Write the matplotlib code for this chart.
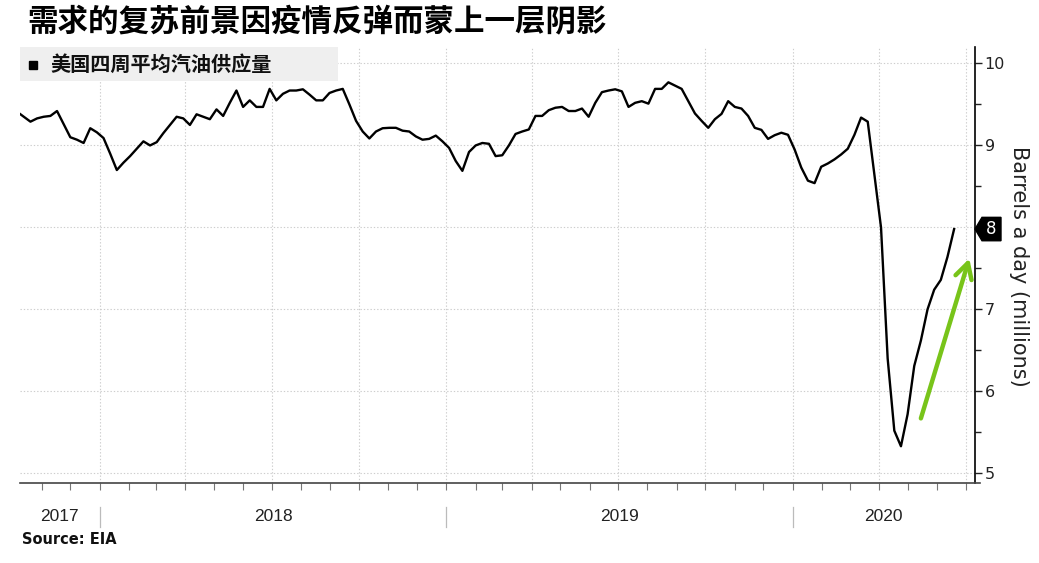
import matplotlib
matplotlib.use("Agg")
import matplotlib.pyplot as plt
import matplotlib.dates as mdates
from matplotlib.patches import Rectangle, Polygon
from matplotlib.ticker import FixedLocator, MultipleLocator, FuncFormatter
import pandas as pd

# ---------------- data ----------------
title = "需求的复苏前景因疫情反弹而蒙上一层阴影"
legend_label = "美国四周平均汽油供应量"
y_label = "Barrels a day (millions)"
source_text = "Source: EIA"
years = [2017, 2018, 2019, 2020]
y_ticks = [5, 6, 7, 8, 9, 10]

start_date = "2017-10-06"
gasoline = [
    9.41, 9.35, 9.29, 9.33, 9.35, 9.36, 9.42, 9.26, 9.10, 9.07,
    9.03, 9.21, 9.16, 9.09, 8.90, 8.70, 8.79, 8.87, 8.96, 9.05,
    9.00, 9.04, 9.15, 9.25, 9.35, 9.33, 9.25, 9.38, 9.35, 9.32,
    9.44, 9.36, 9.52, 9.67, 9.47, 9.55, 9.47, 9.47, 9.69, 9.55,
    9.63, 9.67, 9.67, 9.685, 9.62, 9.55, 9.55, 9.64, 9.67, 9.69,
    9.50, 9.30, 9.17, 9.085, 9.17, 9.21, 9.215, 9.215, 9.18, 9.17,
    9.11, 9.07, 9.08, 9.12, 9.05, 8.97, 8.81, 8.69, 8.92, 9.00,
    9.03, 9.02, 8.87, 8.88, 9.00, 9.14, 9.17, 9.195, 9.36, 9.36,
    9.43, 9.46, 9.47, 9.42, 9.42, 9.45, 9.35, 9.52, 9.65, 9.67,
    9.685, 9.66, 9.47, 9.52, 9.54, 9.51, 9.69, 9.69, 9.77, 9.73,
    9.69, 9.54, 9.39, 9.30, 9.215, 9.32, 9.385, 9.54, 9.47, 9.45,
    9.36, 9.215, 9.19, 9.08, 9.125, 9.155, 9.13, 8.95, 8.73, 8.57,
    8.54, 8.74, 8.78, 8.83, 8.89, 8.96, 9.13, 9.34, 9.29, 8.64,
    8.00, 6.40, 5.52, 5.33, 5.72, 6.31, 6.62, 7.00, 7.24, 7.36,
    7.64, 7.98,
]
dates = pd.date_range(start_date, periods=len(gasoline), freq="7D")

x_range = ("2017-10-09", "2020-07-11")
y_range = (4.878, 10.201)
arrow_tail = ("2020-05-15", 5.67)
arrow_head = ("2020-07-05", 7.62)

# ---------------- style ----------------
CJK = ["Noto Sans CJK SC", "DejaVu Sans"]
GREEN = "#78c41a"

fig = plt.figure(figsize=(10.39, 5.63), dpi=100)
W, H = 1039, 563
ax_l, ax_r, ax_t, ax_b = 20, 975, 47, 483.3
ax = fig.add_axes([ax_l / W, 1 - ax_b / H, (ax_r - ax_l) / W, (ax_b - ax_t) / H])
ax_w_px = ax_r - ax_l

ax.plot(dates, gasoline, color="black", lw=1.7, zorder=3, solid_joinstyle="round")

ax.set_xlim(pd.Timestamp(x_range[0]), pd.Timestamp(x_range[1]))
ax.set_ylim(*y_range)

# spines
for s in ["top", "left"]:
    ax.spines[s].set_visible(False)
ax.spines["right"].set_color("black")
ax.spines["right"].set_linewidth(1.2)
ax.spines["bottom"].set_color("#444444")
ax.spines["bottom"].set_linewidth(1.2)
ax.spines["bottom"].set_bounds(ax.get_xlim()[0],
                               ax.get_xlim()[1] + 5 / ax_w_px * (ax.get_xlim()[1] - ax.get_xlim()[0]))

# x axis: quarterly grid, monthly ticks, no labels
ax.xaxis.set_major_locator(mdates.MonthLocator(bymonth=[1, 4, 7, 10]))
ax.xaxis.set_minor_locator(mdates.MonthLocator())
ax.tick_params(axis="x", which="both", length=5, width=0.8, color="#777777",
               labelbottom=False, direction="out")

# y axis on right
ax.yaxis.tick_right()
ax.yaxis.set_major_locator(FixedLocator(y_ticks))
ax.yaxis.set_minor_locator(MultipleLocator(0.5))
last_val = gasoline[-1]
ax.yaxis.set_major_formatter(
    FuncFormatter(lambda v, p: "" if round(v) == round(last_val) else f"{v:g}"))
ax.tick_params(axis="y", which="major", length=5, width=1, color="#222222",
               labelsize=11.5, labelcolor="#222222", pad=2)
ax.tick_params(axis="y", which="minor", length=4, width=1, color="#222222")

ax.grid(axis="both", which="major", linestyle=(0, (1.2, 1.8)), color="#cdcdcd", lw=0.8)
ax.set_axisbelow(True)

# year labels and separators
xt = ax.get_xaxis_transform()
xl0, xl1 = ax.get_xlim()
for yr in years:
    a = max(xl0, mdates.date2num(pd.Timestamp(f"{yr}-01-01")))
    b = min(xl1, mdates.date2num(pd.Timestamp(f"{yr + 1}-01-01")))
    ax.text((a + b) / 2, -0.077, str(yr), transform=xt, ha="center", va="center",
            fontsize=12.5, family="Liberation Sans", color="#222222")
for yr in years[1:]:
    xv = mdates.date2num(pd.Timestamp(f"{yr}-01-01"))
    ax.plot([xv, xv], [-0.0536, -0.1003], transform=xt, color="#bbbbbb",
            lw=0.9, clip_on=False)

# legend box
ax.add_patch(Rectangle((0, 1 - 33.5 / (ax_b - ax_t)), (338 - ax_l) / ax_w_px, 33.5 / (ax_b - ax_t),
                       transform=ax.transAxes, facecolor="#efefef", edgecolor="none",
                       zorder=5, clip_on=False))
leg_y = (ax_b - 64.5) / (ax_b - ax_t)
ax.plot([(33 - ax_l) / ax_w_px], [leg_y], marker="s", ms=5.5, color="black",
        transform=ax.transAxes, zorder=6, clip_on=False)
ax.text((50 - ax_l) / ax_w_px, leg_y, legend_label, transform=ax.transAxes,
        fontsize=14.5, fontweight="bold", family=CJK, va="center", ha="left",
        color="#111111", zorder=6)

# last value tag
yt = ax.get_yaxis_transform()
ppu = (ax_b - ax_t) / (y_range[1] - y_range[0])  # px per data unit
hh = 11.7 / ppu
tag = Polygon([(1.0, last_val), (1 + 7 / ax_w_px, last_val + hh),
               (1 + 26 / ax_w_px, last_val + hh), (1 + 26 / ax_w_px, last_val - hh),
               (1 + 7 / ax_w_px, last_val - hh)], closed=True, transform=yt,
              facecolor="black", edgecolor="black", zorder=10, clip_on=False)
ax.add_patch(tag)
ax.text(1 + 16.5 / ax_w_px, last_val, f"{last_val:.0f}", transform=yt, color="white",
        fontsize=12, ha="center", va="center", zorder=11)

# y label
ax.text((1019 - ax_l) / ax_w_px, (ax_b - 266.5) / (ax_b - ax_t), y_label,
        transform=ax.transAxes, rotation=270, ha="center", va="center",
        fontsize=15, color="#222222")

# green arrow
ax.annotate("", xy=(pd.Timestamp(arrow_head[0]), arrow_head[1]),
            xytext=(pd.Timestamp(arrow_tail[0]), arrow_tail[1]),
            arrowprops=dict(arrowstyle="->,head_length=0.55,head_width=0.3",
                            color=GREEN, lw=3.2, mutation_scale=20,
                            shrinkA=0, shrinkB=0),
            annotation_clip=False, zorder=4)

# title and source
fig.text(27 / W, 1 - 22 / H, title, fontsize=22, fontweight="bold", family=CJK,
         va="center", ha="left", color="black")
fig.text(22 / W, 1 - 540 / H, source_text, fontsize=10.5, fontweight="bold",
         family="DejaVu Sans", va="center", ha="left", color="#111111")

fig.savefig("out.png", dpi=100)
